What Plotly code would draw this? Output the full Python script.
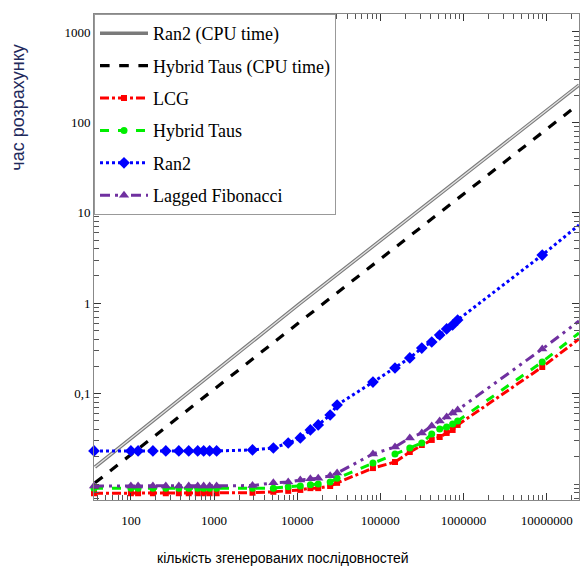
import plotly.graph_objects as go

# sample sizes (number of generated sequences)
n_samples = [36, 100, 122, 184, 263, 377, 496, 636, 750, 885, 1074, 2900, 5170, 7800,
             10900, 14400, 17900, 24900, 30200, 81500, 150000, 226000, 315000, 415000,
             517000, 627000, 740000, 850000, 8850000, 24500000]

lcg = [0.0079, 0.0079, 0.0079, 0.0079, 0.0079, 0.0079, 0.0079, 0.0079, 0.0079, 0.0079, 0.0079,
       0.0080, 0.0082, 0.0084, 0.0086, 0.0090, 0.0090, 0.0095, 0.0103, 0.0150, 0.0175, 0.0226,
       0.0270, 0.0307, 0.0331, 0.0367, 0.0396, 0.0450, 0.197, 0.402]

hybrid_taus = [0.0090, 0.0090, 0.0090, 0.0090, 0.0090, 0.0090, 0.0090, 0.0090, 0.0090, 0.0090, 0.0090,
               0.0090, 0.0090, 0.0093, 0.0095, 0.0098, 0.0100, 0.0105, 0.0116, 0.0171, 0.0215, 0.0250,
               0.0284, 0.0357, 0.0406, 0.0427, 0.0461, 0.0498, 0.224, 0.468]

ran2 = [0.0232, 0.0232, 0.0232, 0.0232, 0.0232, 0.0232, 0.0232, 0.0232, 0.0232, 0.0232, 0.0232,
        0.0238, 0.0250, 0.0284, 0.0323, 0.0396, 0.0450, 0.0580, 0.0748, 0.134, 0.192, 0.248,
        0.319, 0.372, 0.445, 0.519, 0.574, 0.652, 3.41, 7.33]

lagged_fib = [0.0095, 0.0095, 0.0095, 0.0095, 0.0095, 0.0095, 0.0095, 0.0095, 0.0095, 0.0095, 0.0095,
              0.0096, 0.0103, 0.0105, 0.0111, 0.0114, 0.0116, 0.0123, 0.0132, 0.0215, 0.0257, 0.0323,
              0.0367, 0.0438, 0.0498, 0.0551, 0.0610, 0.0659, 0.311, 0.635]

# CPU-time reference lines
cpu_n_ran2 = [37, 10600, 24500000]
cpu_ran2 = [0.0154, 0.98, 259]
cpu_n_taus = [37, 10000, 19700000]
cpu_taus = [0.0103, 0.589, 137]

x_tickvals = [100, 1000, 10000, 100000, 1000000, 10000000]
x_ticktext = ["100", "1000", "10000", "100000", "1000000", "10000000"]
y_tickvals = [0.1, 1, 10, 100, 1000]
y_ticktext = ["0,1", "1", "10", "100", "1000"]

serif = "Liberation Serif, Times New Roman, serif"
sans = "Liberation Sans, Arial, sans-serif"

fig = go.Figure()

fig.add_trace(go.Scatter(x=cpu_n_ran2, y=cpu_ran2, mode="lines", name="Ran2 (CPU time)",
                         legendgroup="g1", line=dict(color="#7a7a7a", width=3.5)))
fig.add_trace(go.Scatter(x=cpu_n_ran2, y=cpu_ran2, mode="lines", showlegend=False,
                         legendgroup="g1", hoverinfo="skip", line=dict(color="#e2e2e2", width=1.3)))
fig.add_trace(go.Scatter(x=cpu_n_taus, y=cpu_taus, mode="lines", name="Hybrid Taus (CPU time)",
                         legendgroup="g2", line=dict(color="black", width=3.2, dash="dash")))
fig.add_trace(go.Scatter(x=n_samples, y=lcg, mode="lines+markers", name="LCG", legendgroup="g3",
                         cliponaxis=False,
                         line=dict(color="#ff0000", width=3, dash="dashdot"),
                         marker=dict(symbol="square", size=6, color="#ff0000")))
fig.add_trace(go.Scatter(x=n_samples, y=hybrid_taus, mode="lines+markers", name="Hybrid Taus",
                         legendgroup="g4", cliponaxis=False,
                         line=dict(color="#00ee00", width=3, dash="dash"),
                         marker=dict(symbol="circle", size=7, color="#00ee00")))
fig.add_trace(go.Scatter(x=n_samples, y=ran2, mode="lines+markers", name="Ran2", legendgroup="g5",
                         cliponaxis=False,
                         line=dict(color="#0000ff", width=3, dash="dot"),
                         marker=dict(symbol="diamond", size=9, color="#0000ff")))
fig.add_trace(go.Scatter(x=n_samples, y=lagged_fib, mode="lines+markers", name="Lagged Fibonacci",
                         legendgroup="g6", cliponaxis=False,
                         line=dict(color="#7030a0", width=3, dash="10px,5px,3px,5px,3px,5px"),
                         marker=dict(symbol="triangle-up", size=9, color="#7030a0")))

axis_common = dict(showgrid=False, zeroline=False, showline=True, linecolor="#888888", linewidth=1,
                   mirror="allticks", ticks="inside", ticklen=7, tickcolor="#333333",
                   minor=dict(ticks="inside", ticklen=5, tickcolor="#555555", dtick="D1", showgrid=False))

fig.update_xaxes(type="log", range=[1.5563, 7.389], tickmode="array", tickvals=x_tickvals,
                 ticktext=x_ticktext, tickfont=dict(family=serif, size=13, color="black"),
                 ticklabelstandoff=8, **axis_common)
fig.update_yaxes(type="log", range=[-2.177, 3.199], tickmode="array", tickvals=y_tickvals,
                 ticktext=y_ticktext, tickfont=dict(family=serif, size=13, color="black"),
                 **axis_common)

fig.add_annotation(text="кількість згенерованих послідовностей", xref="paper", yref="paper",
                   x=0.39, y=-0.119, showarrow=False, xanchor="center", yanchor="middle",
                   font=dict(family=sans, size=14, color="black"))
fig.add_annotation(text="час розрахунку", xref="paper", yref="paper", textangle=-90,
                   x=-0.157, y=0.809, showarrow=False, xanchor="center", yanchor="middle",
                   font=dict(family=sans, size=18, color="#1f2a5c"))

fig.update_layout(
    width=584, height=568,
    margin=dict(l=94, r=5, t=14, b=68),
    paper_bgcolor="white", plot_bgcolor="white",
    showlegend=True,
    legend=dict(x=0, y=1, xanchor="left", yanchor="top", bgcolor="white",
                bordercolor="#999999", borderwidth=1, traceorder="grouped",
                tracegroupgap=6, itemwidth=48,
                font=dict(family=serif, size=18, color="black")),
)

fig.write_html("out.html", config={"displayModeBar": False},
               post_script="document.body.style.margin='0';document.body.style.overflow='hidden';")
